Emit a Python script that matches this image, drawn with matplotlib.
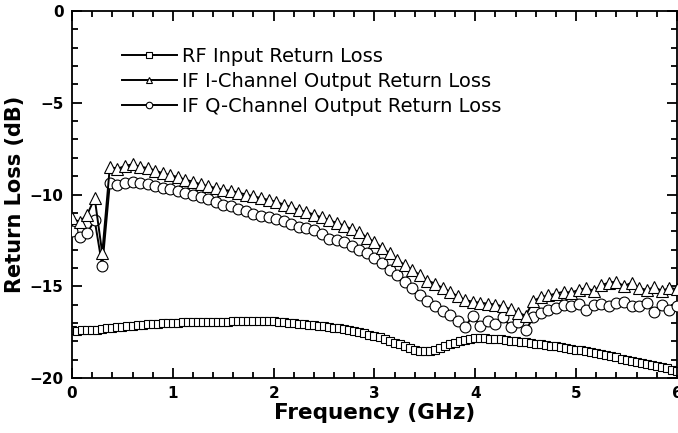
import matplotlib.pyplot as plt
import numpy as np

# RF port sweep (0.05 GHz step) and IF port sweep (0.075 GHz step)
freq_rf = np.linspace(0, 6, 121)
freq_if = np.linspace(0, 6, 81)

rf_input = [
    -17.40, -17.42, -17.40, -17.38, -17.41, -17.37, -17.33, -17.30, -17.28, -17.24,
    -17.22, -17.19, -17.16, -17.13, -17.10, -17.08, -17.05, -17.03, -17.01, -17.00,
    -16.99, -16.98, -16.97, -16.97, -16.96, -16.96, -16.95, -16.95, -16.94, -16.94,
    -16.93, -16.93, -16.92, -16.92, -16.91, -16.91, -16.90, -16.90, -16.91, -16.91,
    -16.92, -16.94, -16.96, -16.98, -17.00, -17.03, -17.06, -17.09, -17.12, -17.15,
    -17.18, -17.22, -17.26, -17.30, -17.35, -17.40, -17.45, -17.51, -17.57, -17.64,
    -17.71, -17.79, -17.88, -17.97, -18.07, -18.17, -18.27, -18.37, -18.46, -18.53,
    -18.55, -18.52, -18.45, -18.36, -18.26, -18.16, -18.07, -17.99, -17.92, -17.87,
    -17.84, -17.83, -17.84, -17.86, -17.88, -17.90, -17.93, -17.96, -17.99, -18.02,
    -18.05, -18.09, -18.13, -18.17, -18.20, -18.24, -18.28, -18.32, -18.37, -18.41,
    -18.45, -18.50, -18.55, -18.60, -18.65, -18.70, -18.76, -18.82, -18.88, -18.94,
    -19.00, -19.06, -19.12, -19.18, -19.24, -19.30, -19.36, -19.42, -19.48, -19.54,
    -19.60,
]

if_i_out = [
    -11.30, -11.50, -11.10, -10.20, -13.20, -8.50, -8.60, -8.45, -8.35, -8.50,
    -8.55, -8.70, -8.85, -8.95, -9.05, -9.20, -9.30, -9.45, -9.55, -9.65,
    -9.75, -9.80, -9.90, -10.00, -10.10, -10.20, -10.30, -10.40, -10.55, -10.70,
    -10.85, -10.95, -11.10, -11.25, -11.40, -11.55, -11.70, -11.90, -12.05, -12.35,
    -12.60, -12.90, -13.20, -13.55, -13.85, -14.10, -14.40, -14.70, -14.85, -15.10,
    -15.30, -15.55, -15.75, -15.85, -15.90, -15.95, -16.00, -16.10, -16.25, -16.45,
    -16.60, -15.80, -15.60, -15.50, -15.40, -15.30, -15.35, -15.20, -15.10, -15.25,
    -14.95, -14.80, -14.75, -15.00, -14.80, -15.10, -15.20, -15.05, -15.25, -15.10,
    -15.15,
]

if_q_out = [
    -12.00, -12.30, -12.10, -11.40, -13.90, -9.40, -9.50, -9.40, -9.30, -9.35,
    -9.45, -9.55, -9.65, -9.70, -9.80, -9.90, -10.00, -10.15, -10.25, -10.40,
    -10.55, -10.65, -10.80, -10.90, -11.05, -11.15, -11.25, -11.35, -11.45, -11.60,
    -11.75, -11.80, -11.95, -12.15, -12.40, -12.50, -12.60, -12.80, -13.00, -13.20,
    -13.45, -13.75, -14.10, -14.40, -14.75, -15.10, -15.45, -15.80, -16.10, -16.35,
    -16.55, -16.90, -17.20, -16.60, -17.15, -16.90, -17.05, -16.70, -17.20, -16.95,
    -17.40, -16.70, -16.45, -16.30, -16.20, -16.00, -16.10, -15.95, -16.30, -16.00,
    -15.95, -16.05, -15.90, -15.85, -16.05, -16.10, -15.90, -16.40, -16.00, -16.30,
    -16.10,
]

fig = plt.figure(figsize=(6.78, 4.33), dpi=100)
ax = fig.add_axes([0.1062, 0.127, 0.8923, 0.8476])

common = dict(color="black", lw=1.4, markerfacecolor="white",
              markeredgecolor="black", markeredgewidth=0.8)
ax.plot(freq_rf, rf_input, marker="s", ms=6.3, label="RF Input Return Loss",
        zorder=2, **common)
ax.plot(freq_if, if_i_out, marker="^", ms=8.2,
        label="IF I-Channel Output Return Loss", zorder=4, **common)
ax.plot(freq_if, if_q_out, marker="o", ms=7.8,
        label="IF Q-Channel Output Return Loss", zorder=3, **common)

ax.set_xlim(0, 6)
ax.set_ylim(-20, 0)
ax.set_xticks(np.arange(0, 7, 1))
ax.set_xticks(np.arange(0, 6.01, 0.2), minor=True)
ax.set_yticks(np.arange(-20, 1, 5))
ax.set_yticks(np.arange(-20, 1, 1), minor=True)

ax.tick_params(which="both", direction="in", top=True, right=True, width=1.3)
ax.tick_params(which="major", length=7, labelsize=11, pad=6)
ax.tick_params(which="minor", length=4)
for lab in ax.get_xticklabels() + ax.get_yticklabels():
    lab.set_fontweight("bold")
for sp in ax.spines.values():
    sp.set_linewidth(1.3)

ax.set_xlabel("Frequency (GHz)", fontsize=15.5, fontweight="bold", labelpad=1)
ax.set_ylabel("Return Loss (dB)", fontsize=15, fontweight="bold", labelpad=3)

ax.legend(loc="upper left", bbox_to_anchor=(0.083, 0.902), frameon=False,
          fontsize=14, markerscale=0.6, handlelength=2.8, handletextpad=0.3,
          labelspacing=0.3, borderpad=0, borderaxespad=0)

fig.savefig("out.png", dpi=100)
